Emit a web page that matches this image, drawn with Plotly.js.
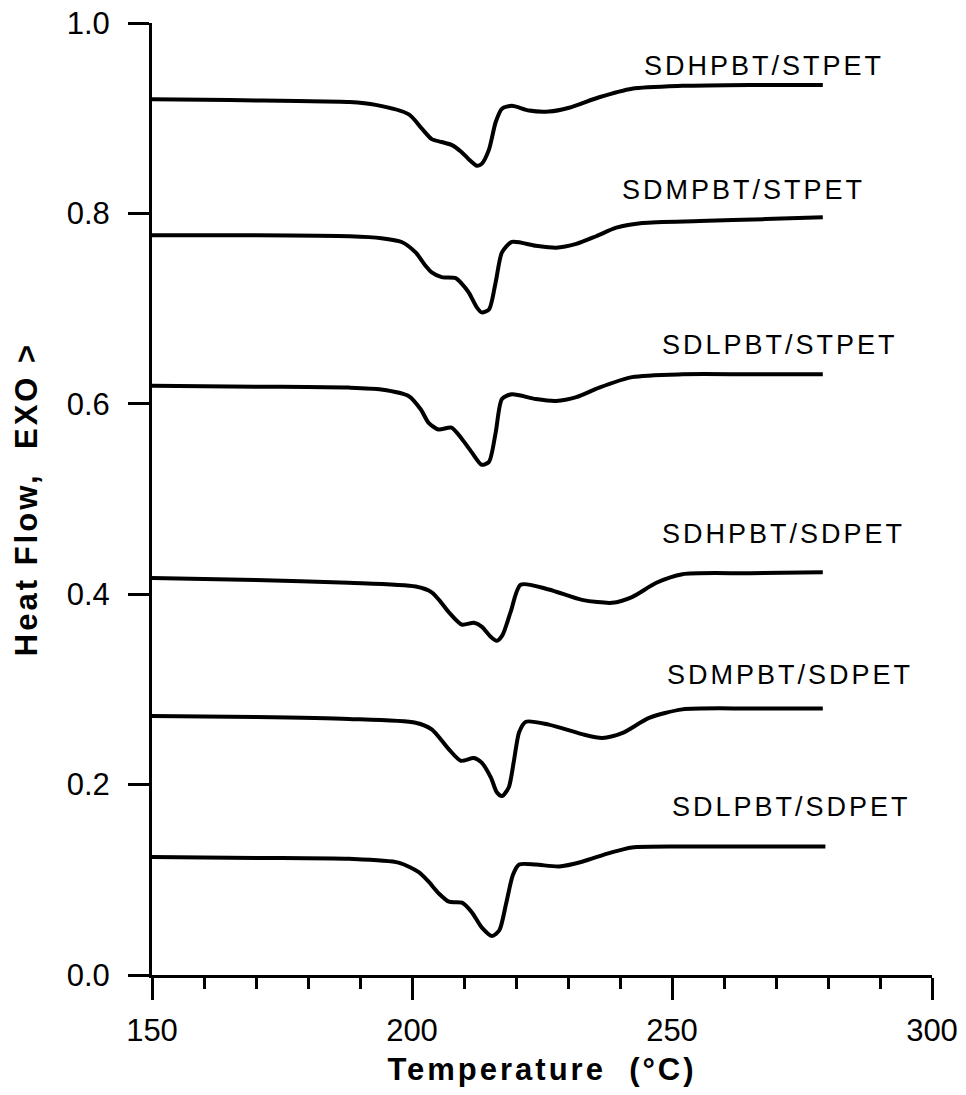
<!DOCTYPE html>
<html>
<head>
<meta charset="utf-8">
<script src="https://cdn.plot.ly/plotly-3.0.1.min.js"></script>
<style>
  html, body { margin: 0; padding: 0; background: #ffffff; }
  #chart { width: 966px; height: 1095px; }
</style>
</head>
<body>
<div id="chart"></div>
<script>
// ---- Data ----
const seriesNames = ["SDHPBT/STPET", "SDMPBT/STPET", "SDLPBT/STPET",
                     "SDHPBT/SDPET", "SDMPBT/SDPET", "SDLPBT/SDPET"];

const tempHPBT_STPET = [150, 165, 178, 188, 193, 199.4, 201.9, 203.8, 205.7, 207.6, 209.4, 210.9, 212.5, 213.4, 214.8, 216.1, 217.3, 219.2, 222.5, 226.3, 230.2, 236, 242.3, 252, 265, 279];
const flowHPBT_STPET = [0.920, 0.919, 0.918, 0.917, 0.914, 0.904, 0.889, 0.878, 0.875, 0.872, 0.865, 0.857, 0.850, 0.852, 0.867, 0.896, 0.910, 0.913, 0.908, 0.907, 0.911, 0.922, 0.931, 0.934, 0.935, 0.935];

const tempMPBT_STPET = [150, 170, 188, 194.1, 198, 200.7, 202.6, 203.8, 205.7, 208.4, 209.6, 210.9, 212.5, 213.4, 214.8, 216.1, 217.3, 219.2, 223.8, 227.7, 231.6, 235.4, 239.3, 244.3, 255.3, 268, 279];
const flowMPBT_STPET = [0.777, 0.777, 0.776, 0.774, 0.770, 0.759, 0.745, 0.738, 0.733, 0.732, 0.726, 0.717, 0.701, 0.696, 0.699, 0.728, 0.759, 0.770, 0.766, 0.764, 0.768, 0.776, 0.785, 0.790, 0.792, 0.794, 0.796];

const tempLPBT_STPET = [150, 170, 187.8, 194.1, 199.4, 201.7, 203.2, 205.1, 207.6, 209.6, 211.5, 213.4, 214.8, 216.1, 217.3, 219.2, 223.8, 227.7, 231.6, 236, 242.3, 252, 265, 279];
const flowLPBT_STPET = [0.619, 0.618, 0.617, 0.615, 0.608, 0.594, 0.580, 0.573, 0.575, 0.563, 0.549, 0.536, 0.539, 0.570, 0.605, 0.610, 0.605, 0.603, 0.607, 0.617, 0.628, 0.631, 0.631, 0.631];

const tempHPBT_SDPET = [150, 170, 187.8, 200.7, 203.8, 205.5, 207.1, 209.6, 211.9, 213.4, 215.2, 216.3, 217.4, 219.0, 220.9, 226.3, 232.7, 238.5, 242.3, 247, 252, 265, 279];
const flowHPBT_SDPET = [0.417, 0.415, 0.412, 0.408, 0.402, 0.392, 0.381, 0.368, 0.370, 0.366, 0.355, 0.351, 0.357, 0.382, 0.410, 0.405, 0.394, 0.391, 0.397, 0.412, 0.421, 0.422, 0.423];

const tempMPBT_SDPET = [150, 170, 187.8, 200.7, 203.8, 207.1, 209.4, 211.9, 213.4, 215.2, 216.3, 217.3, 218.6, 219.6, 220.6, 221.9, 226.3, 232.7, 236.6, 240.4, 245.6, 252, 265, 279];
const flowMPBT_SDPET = [0.272, 0.271, 0.269, 0.265, 0.258, 0.237, 0.225, 0.228, 0.223, 0.207, 0.192, 0.188, 0.197, 0.225, 0.255, 0.266, 0.263, 0.253, 0.249, 0.254, 0.270, 0.279, 0.280, 0.280];

const tempLPBT_SDPET = [150, 170, 187.8, 197.4, 201.3, 203.2, 205.1, 207.1, 209.6, 211.5, 213.4, 215.4, 216.8, 218.1, 219.4, 220.6, 223.8, 228.3, 232.7, 237.9, 242.3, 252, 265, 279.5];
const flowLPBT_SDPET = [0.124, 0.123, 0.122, 0.118, 0.108, 0.098, 0.086, 0.077, 0.076, 0.066, 0.050, 0.041, 0.047, 0.075, 0.105, 0.116, 0.116, 0.114, 0.119, 0.128, 0.134, 0.135, 0.135, 0.135];

// label anchor positions (data coords, left edge of each label)
const labelTemp = [244.3, 240.0, 247.6, 247.6, 248.7, 249.7];
const labelFlow = [0.955, 0.825, 0.662, 0.463, 0.315, 0.176];

const xTickVals = [150, 200, 250, 300];
const yTickVals = [0.0, 0.2, 0.4, 0.6, 0.8, 1.0];
const yTickText = ["0.0", "0.2", "0.4", "0.6", "0.8", "1.0"];

// ---- Build traces ----
const temps = [tempHPBT_STPET, tempMPBT_STPET, tempLPBT_STPET, tempHPBT_SDPET, tempMPBT_SDPET, tempLPBT_SDPET];
const flows = [flowHPBT_STPET, flowMPBT_STPET, flowLPBT_STPET, flowHPBT_SDPET, flowMPBT_SDPET, flowLPBT_SDPET];

const traces = seriesNames.map((name, i) => ({
  type: 'scatter',
  mode: 'lines',
  name: name,
  x: temps[i],
  y: flows[i],
  line: { color: '#000000', width: 4, shape: 'spline', smoothing: 0.7 },
  hoverinfo: 'skip'
}));

const annotations = seriesNames.map((name, i) => ({
  x: labelTemp[i], y: labelFlow[i], xref: 'x', yref: 'y',
  text: name, showarrow: false, xanchor: 'left', yanchor: 'middle', align: 'left',
  font: { family: 'Liberation Sans, Arial, sans-serif', size: 27, color: '#000000' }
}));

const layout = {
  width: 966, height: 1095,
  paper_bgcolor: '#ffffff', plot_bgcolor: '#ffffff',
  showlegend: false,
  margin: { l: 152, r: 34, t: 23, b: 120 },
  font: { family: 'Liberation Sans, Arial, sans-serif', color: '#000000' },
  xaxis: {
    range: [150, 300], autorange: false,
    tickmode: 'array', tickvals: xTickVals,
    ticks: 'outside', ticklen: 22, tickwidth: 3, tickcolor: '#000000',
    minor: { dtick: 10, ticks: 'outside', ticklen: 11, tickwidth: 3, tickcolor: '#000000', showgrid: false },
    showline: true, linewidth: 3, linecolor: '#000000',
    showgrid: false, zeroline: false,
    tickfont: { size: 31, color: '#000000' },
    ticklabelstandoff: 4,
    title: { text: 'Temperature  (°C)', font: { size: 31, family: 'Liberation Sans, Arial, sans-serif', weight: 'bold', color: '#000000' }, standoff: 12 }
  },
  yaxis: {
    range: [0, 1.0], autorange: false,
    tickmode: 'array', tickvals: yTickVals, ticktext: yTickText,
    ticks: 'outside', ticklen: 21, tickwidth: 3, tickcolor: '#000000',
    showline: true, linewidth: 3, linecolor: '#000000',
    showgrid: false, zeroline: false,
    tickfont: { size: 31, color: '#000000' },
    ticklabelstandoff: 12,
    title: { text: 'Heat Flow,  EXO >', font: { size: 31, family: 'Liberation Sans, Arial, sans-serif', weight: 'bold', color: '#000000' }, standoff: 20 }
  },
  annotations: annotations
};

Plotly.newPlot('chart', traces, layout, { staticPlot: true, displayModeBar: false }).then(() => {
  document.querySelectorAll('#chart .annotation-text').forEach(el => { el.style.letterSpacing = '3px'; });
  document.querySelectorAll('#chart .xtitle, #chart .ytitle').forEach(el => { el.style.letterSpacing = '3px'; });
});
</script>
</body>
</html>
